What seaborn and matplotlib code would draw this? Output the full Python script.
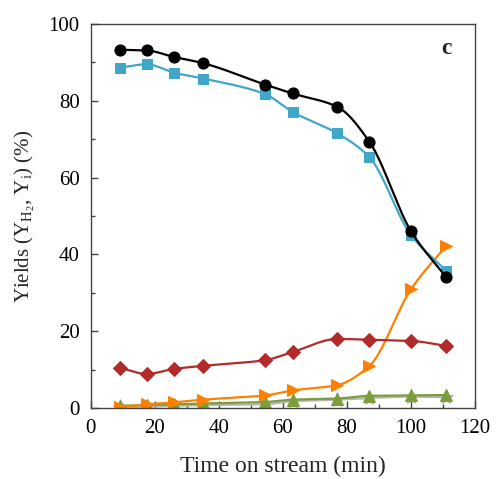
import matplotlib
matplotlib.use("Agg")
import matplotlib.pyplot as plt
import seaborn as sns
import pandas as pd
import numpy as np
from matplotlib.ticker import MultipleLocator

sns.set_theme(style="ticks")
plt.rcParams['font.family'] = ['Liberation Serif', 'DejaVu Serif']
plt.rcParams['mathtext.fontset'] = 'custom'
plt.rcParams['mathtext.rm'] = 'Liberation Serif'
plt.rcParams['mathtext.it'] = 'Liberation Serif'

time_min = [9, 17.5, 26, 35, 54.5, 63, 77, 87, 100, 111]
y_h2 = [93.3, 93.1, 91.4, 89.8, 84.2, 81.9, 78.4, 69.3, 46.0, 34.0]
y_blue = [88.6, 89.5, 87.3, 85.8, 81.7, 77.1, 71.5, 65.3, 45.0, 35.7]
y_red = [10.5, 8.9, 10.2, 11.0, 12.5, 14.6, 18.0, 17.8, 17.5, 16.2]
y_orange = [0.3, 1.0, 1.5, 2.2, 3.3, 4.6, 6.0, 11.0, 31.0, 42.3]
y_green = [0.6, 0.8, 1.0, 1.2, 1.6, 2.2, 2.5, 3.2, 3.3, 3.4]
y_gray = [0.2, 0.4, 0.6, 0.8, 1.0, 1.8, 2.2, 2.6, 3.0, 2.8]

series = [
    (y_gray, '#b5b5b5', '*', 11),
    (y_green, '#7a9e3a', '^', 8),
    (y_orange, '#ff8000', '>', 9),
    (y_red, '#b22a2a', 'D', 7),
    (y_blue, '#41a7c9', 's', 7),
    (y_h2, '#000000', 'o', 8),
]


def pchip(x, y, xs):
    x = np.asarray(x, float); y = np.asarray(y, float)
    h = np.diff(x); d = np.diff(y) / h
    m = np.zeros_like(y)
    for k in range(1, len(x) - 1):
        if d[k - 1] * d[k] > 0:
            w1 = 2 * h[k] + h[k - 1]; w2 = h[k] + 2 * h[k - 1]
            m[k] = (w1 + w2) / (w1 / d[k - 1] + w2 / d[k])
    m[0] = d[0]; m[-1] = d[-1]
    out = np.empty_like(xs)
    for i, xv in enumerate(xs):
        k = min(np.searchsorted(x, xv) - 1, len(x) - 2)
        k = max(k, 0)
        t = (xv - x[k]) / h[k]
        h00 = 2 * t**3 - 3 * t**2 + 1; h10 = t**3 - 2 * t**2 + t
        h01 = -2 * t**3 + 3 * t**2; h11 = t**3 - t**2
        out[i] = h00 * y[k] + h10 * h[k] * m[k] + h01 * y[k + 1] + h11 * h[k] * m[k + 1]
    return out


fig = plt.figure(figsize=(4.96, 4.79), dpi=100)
ax = fig.add_axes([0.183, 0.148, 0.775, 0.802])

xs = np.linspace(time_min[0], time_min[-1], 300)
for vals, col, mk, ms in series:
    smooth = pd.DataFrame({'t': xs, 'y': pchip(time_min, vals, xs)})
    sns.lineplot(data=smooth, x='t', y='y', ax=ax, color=col, linewidth=1.6)
    df = pd.DataFrame({'t': time_min, 'y': vals})
    sns.lineplot(data=df, x='t', y='y', ax=ax, color=col, marker=mk, linestyle='none',
                 markersize=ms, markeredgecolor=col)

ax.set_xlim(0, 120)
ax.set_ylim(0, 100)
ax.xaxis.set_major_locator(MultipleLocator(20))
ax.xaxis.set_minor_locator(MultipleLocator(10))
ax.yaxis.set_major_locator(MultipleLocator(20))
ax.yaxis.set_minor_locator(MultipleLocator(10))
ax.tick_params(axis='both', which='both', direction='in', labelsize=15, colors='#444444', labelcolor='black')
ax.tick_params(axis='both', which='major', length=5, width=1, pad=8)
ax.tick_params(axis='both', which='minor', length=3, width=1)
for s in ax.spines.values():
    s.set_visible(True)
    s.set_color('#444444')
    s.set_linewidth(1)

ax.set_xlabel('Time on stream (min)', fontsize=17, labelpad=13)
ax.set_ylabel(r'Yields (Y$_{\mathrm{H}_2}$, Y$_\mathrm{i}$) (%)', fontsize=15, labelpad=8)
ax.text(111, 93.5, 'c', fontsize=17, fontweight='bold', ha='center', va='center')

fig.savefig('out.png', dpi=100)
